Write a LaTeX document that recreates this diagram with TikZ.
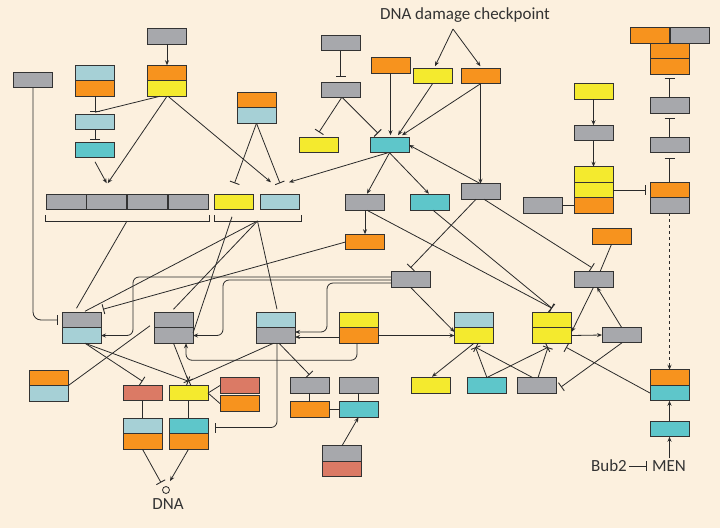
\documentclass[tikz,border=0pt]{standalone}
\usepackage{fontspec}
\setmainfont{Carlito}
\usetikzlibrary{arrows.meta,calc}
\definecolor{bgc}{HTML}{FCF0DE}
\definecolor{cg}{HTML}{A7A8AC}
\definecolor{co}{HTML}{F7931E}
\definecolor{cy}{HTML}{F4EA2E}
\definecolor{cl}{HTML}{A6D0D6}
\definecolor{ct}{HTML}{5EC6CA}
\definecolor{cs}{HTML}{DB7A65}
\definecolor{bdr}{HTML}{333333}
\definecolor{lc}{HTML}{2A2A2A}
\definecolor{txc}{HTML}{333333}
\begin{document}
\begin{tikzpicture}[x=1pt,y=-1pt,
  bx/.style={draw=bdr, line width=0.95pt, minimum width=39pt, minimum height=15.5pt, inner sep=0pt, outer sep=0pt},
  gbox/.style={bx, fill=cg}, obox/.style={bx, fill=co}, ybox/.style={bx, fill=cy},
  lbox/.style={bx, fill=cl}, tbox/.style={bx, fill=ct}, sbox/.style={bx, fill=cs},
  ln/.style={draw=lc, line width=0.8pt},
  act/.style={ln, -{Stealth[length=5pt,width=4pt]}},
  inh/.style={ln, -{Bar[width=10pt,line width=0.9pt]}},
  lbl/.style={text=txc, font=\fontsize{17}{20}\selectfont, inner sep=2pt}]
\fill[bgc] (0,0) rectangle (720,528);
\useasboundingbox (0,0) rectangle (720,528);

% ---- nodes ----
\node[gbox] (b1) at (167,36.5) {};
\node[obox] (b2o) at (167,73) {};
\node[ybox] (b2y) at (167,88.5) {};
\node[lbox] (b3l) at (95,73) {};
\node[obox] (b3o) at (95,88.5) {};
\node[lbox] (b4) at (95,122) {};
\node[tbox] (b5) at (95,150) {};
\node[gbox] (b6) at (33,80) {};
\node[obox] (b7o) at (256.5,100) {};
\node[lbox] (b7l) at (256.5,115.5) {};
\node[gbox] (b8) at (340.5,43) {};
\node[gbox] (b9) at (340.5,90) {};
\node[ybox] (b10) at (319,145) {};
\node[gbox,minimum width=40pt] (r1) at (66,202) {};
\node[gbox,minimum width=40pt] (r2) at (106.7,202) {};
\node[gbox,minimum width=40pt] (r3) at (147.3,202) {};
\node[gbox,minimum width=40pt] (r4) at (188,202) {};
\node[ybox] (yR) at (233.5,202) {};
\node[lbox] (lR) at (280,202) {};
\node[tbox] (b11) at (389.5,145) {};
\node[obox] (b12) at (390.5,65.5) {};
\node[ybox] (b13) at (432.5,76) {};
\node[obox] (b14) at (480.5,76) {};
\node[gbox] (b15) at (480.5,191.5) {};
\node[gbox] (b16) at (365,202.5) {};
\node[tbox] (b17) at (430,202.5) {};
\node[obox] (b18) at (365,242) {};
% top right
\node[obox] (tA) at (650,35.5) {};
\node[gbox] (tB) at (689.5,35.5) {};
\node[obox] (tC) at (669.5,51) {};
\node[obox] (tD) at (669.5,66.5) {};
\node[gbox] (b19) at (669.5,105.5) {};
\node[gbox] (b20) at (669.5,145) {};
\node[obox] (b21o) at (669.5,190) {};
\node[gbox] (b21g) at (669.5,205.5) {};
\node[ybox] (b22) at (593.5,91.5) {};
\node[gbox] (b23) at (593.5,133) {};
\node[ybox] (b24a) at (593.5,174.5) {};
\node[ybox] (b24b) at (593.5,190) {};
\node[obox] (b24c) at (593.5,205.5) {};
\node[gbox] (b25) at (542.5,205.5) {};
\node[obox] (b28) at (611.5,236.5) {};
\node[gbox] (b29) at (593.5,279.5) {};
\node[ybox] (b30a) at (552,320) {};
\node[ybox] (b30b) at (552,335.5) {};
\node[gbox] (b31) at (621.5,335) {};
\node[lbox] (b32a) at (474,320) {};
\node[ybox] (b32b) at (474,335.5) {};
\node[gbox] (b33) at (410.5,279.5) {};
\node[ybox] (b50) at (430.5,385.5) {};
\node[tbox] (b51) at (486.5,385.5) {};
\node[gbox] (b52) at (536.5,385.5) {};
\node[obox] (b26a) at (669.5,377.5) {};
\node[tbox] (b26b) at (669.5,393) {};
\node[tbox] (b27) at (669.5,429) {};
% left bottom
\node[gbox] (b35a) at (81.5,320) {};
\node[lbox] (b35b) at (81.5,335.5) {};
\node[gbox] (b36a) at (173.5,320) {};
\node[gbox] (b36b) at (173.5,335.5) {};
\node[lbox] (b34a) at (275.5,320) {};
\node[gbox] (b34b) at (275.5,335.5) {};
\node[ybox] (b37a) at (358.5,320) {};
\node[obox] (b37b) at (358.5,335.5) {};
\node[obox] (b38a) at (48.5,378) {};
\node[lbox] (b38b) at (48.5,393.5) {};
\node[sbox] (b39) at (142.5,393) {};
\node[ybox] (b40) at (188.5,393) {};
\node[sbox] (b41) at (239.5,385.5) {};
\node[obox] (b42) at (239.5,403.5) {};
\node[lbox] (b43a) at (142.5,426) {};
\node[obox] (b43b) at (142.5,441.5) {};
\node[tbox] (b44a) at (188.5,426) {};
\node[obox] (b44b) at (188.5,441.5) {};
\node[gbox] (b45) at (309.5,385.5) {};
\node[obox] (b46) at (309.5,409.5) {};
\node[gbox] (b47) at (358.5,385.5) {};
\node[tbox] (b48) at (358.5,409.5) {};
\node[gbox] (b49a) at (341.5,453.5) {};
\node[sbox] (b49b) at (341.5,469) {};
\node[circle, draw=lc, line width=0.8pt, minimum size=7pt, inner sep=0pt] (dna) at (166,490) {};
\node[lbl] (dnat) at (168,504) {DNA};
\node[lbl] (title) at (465,15) {DNA damage checkpoint};
\coordinate (tt) at (453,29);
\node[lbl] (bub) at (609,466) {Bub2};
\node[lbl] (men) at (669,466) {MEN};

% brackets
\draw[ln] (45,215) -- (45,221) -- (209,221) -- (209,215);
\draw[ln] (214,215) -- (214,221) -- (301,221) -- (301,215);
\coordinate (br1) at (127,221);
\coordinate (br2) at (257.5,221);

% ---- connectors ----
\draw[act] (b1.south) -- (b2o.north);
\draw[inh] (b3o.south) -- ([yshift=2pt]b4.north);
\draw[ln] ([xshift=-7pt]b2y.south) -- ([yshift=2pt]b4.north);
\draw[inh] (b4.south) -- ([yshift=2pt]b5.north);
\draw[act] ([yshift=-4pt]b5.south) -- ([yshift=11pt]r2.north);
\draw[act] (b2y.south) -- ([xshift=1pt,yshift=11pt]r2.north);
\draw[act] ([xshift=1pt]b2y.south) -- ([xshift=-9pt,yshift=12pt]lR.north);
\draw[inh] (b7l.south) -- ([xshift=1pt,yshift=11pt]yR.north);
\draw[inh] (b7l.south) -- ([yshift=11pt]lR.north);
\draw[act] ([xshift=-1.5pt]b11.south) -- ([xshift=9pt,yshift=12pt]lR.north);
\draw[inh] (b8.south) -- ([yshift=5pt]b9.north);
\draw[inh] ([xshift=1pt]b9.south) -- ([yshift=5pt]b10.north);
\draw[inh] ([xshift=2pt]b9.south) -- ([xshift=-11.5pt,yshift=4pt]b11.north);
\draw[act] (b12.south) -- ([xshift=1pt,yshift=2pt]b11.north);
\draw[act] (b13.south) -- ([xshift=8.5pt,yshift=2pt]b11.north);
\draw[act] (b14.south) -- ([xshift=12.5pt,yshift=2pt]b11.north);
\draw[act] (b14.south) -- (b15.north);
\draw[act] (b15.north) -- (b11.east);
\draw[act] (b11.south) -- ([xshift=2pt,yshift=1pt]b16.north);
\draw[act] (b11.south) -- ([xshift=-1pt,yshift=1pt]b17.north);
\draw[act] (b16.south) -- (b18.north);
\draw[inh] ([xshift=2pt]b16.south) -- ([yshift=4pt]b30a.north);
\draw[inh] ([xshift=3pt]b17.south) -- ([yshift=4pt]b30a.north);
\draw[inh] (b18.west) -- ([xshift=2pt,yshift=3pt]b35a.north east);
\draw[inh] ([xshift=-4.5pt]b15.south) -- ([yshift=4pt]b33.north);
\draw[inh] ([xshift=3.5pt]b15.south) -- ([xshift=-1.5pt,yshift=4pt]b29.north);
\draw[ln] (b28.south) -- ([xshift=6.5pt]b29.north);
\draw[act] (b29.south) -- ([yshift=3.5pt]b30b.east);
\draw[act] (b31.north) -- ([xshift=3.5pt]b29.south);
\draw[act] (b30b.east) -- (b31.west);
\draw[act] (b33.south) -- ([yshift=3.5pt]b32b.west);
\draw[act, rounded corners=6pt] ([yshift=2.5pt]b33.west) -| ([xshift=32pt]b35b.east) -- (b35b.east);
\draw[act, rounded corners=6pt] ([yshift=-0.5pt]b33.west) -| ([xshift=30pt]b36b.east) -- (b36b.east);
\draw[act, rounded corners=6pt] ([yshift=-3.5pt]b33.west) -| ([xshift=32pt,yshift=3.5pt]b34b.east) -- ([yshift=3.5pt]b34b.east);
\draw[act] ([yshift=-1.5pt]b37b.west) -- ([yshift=-1.5pt]b34b.east);
\draw[act, rounded corners=6pt] ([xshift=-1.5pt]b37b.south) -- ++(0,17) -| ([xshift=12.5pt]b36b.south);
\draw[act] (b37b.east) -- (b32b.west);
\draw[inh, rounded corners=8pt] (b6.south) |- ([xshift=-4pt]b35a.west);
\draw[ln] (br1) -- ([xshift=-5pt,yshift=4pt]b35a.north);
\draw[ln] (br2) -- ([xshift=3.5pt,yshift=1pt]b35a.north);
\draw[ln] (br2) -- ([yshift=3pt]b36a.north);
\draw[ln] (br2) -- ([xshift=1.5pt,yshift=3pt]b34a.north);
\draw[ln] ([xshift=-1.5pt,yshift=-7pt]yR.south) -- ([yshift=2.5pt]b36b.east);
\draw[ln] (b38a.south east) -- ([xshift=-4pt,yshift=2pt]b36b.north west);
\draw[inh] ([xshift=3.5pt]b35b.south) -- ([yshift=4pt]b39.north);
\draw[inh] ([xshift=3.5pt]b35b.south) -- ([yshift=4pt]b40.north);
\draw[inh] (b36b.south) -- ([yshift=4pt]b40.north);
\draw[inh] ([xshift=-2pt]b34b.south) -- ([yshift=4pt]b40.north);
\draw[inh] ([xshift=3.5pt]b34b.south) -- ([yshift=3pt]b45.north);
\draw[inh, rounded corners=6pt] ([xshift=1.5pt]b34b.south) |- ([xshift=7pt,yshift=-1.5pt]b44a.east);
\draw[ln] (b39.south) -- (b43a.north);
\draw[ln] (b40.south) -- (b44a.north);
\draw[ln] (b40.east) -- (b41.west);
\draw[ln] (b40.east) -- (b42.west);
\draw[inh] (b43b.south) -- ([xshift=-5pt,yshift=3.5pt]dna.north);
\draw[act] (b44b.south) -- ([xshift=4pt,yshift=5pt]dna.north);
\draw[ln] (b45.south) -- (b46.north);
\draw[ln] (b46.east) -- (b48.west);
\draw[ln] (b47.south) -- (b48.north);
\draw[act] ([xshift=0.5pt]b49a.north) -- (b48.south);
\draw[act] (b32b.south) -- ([xshift=1.5pt,yshift=1pt]b50.north);
\draw[inh] ([xshift=0.5pt]b51.north) -- ([xshift=1.5pt,yshift=-4pt]b32b.south);
\draw[inh] ([xshift=-3.5pt]b52.north) -- ([xshift=1.5pt,yshift=-4pt]b32b.south);
\draw[inh] (b51.north) -- ([xshift=-4pt,yshift=-4pt]b30b.south);
\draw[inh] ([xshift=1.5pt]b52.north) -- ([xshift=-4pt,yshift=-4pt]b30b.south);
\draw[inh] (b26b.west) -- ([xshift=14pt,yshift=-4pt]b30b.south);
\draw[inh] ([xshift=0.5pt]b31.south) -- ([xshift=5pt,yshift=-1.5pt]b52.east);
\draw[act] (b22.south) -- (b23.north);
\draw[act] (b23.south) -- (b24a.north);
\draw[ln] (b25.east) -- (b24c.west);
\draw[inh] (b24b.east) -- ([xshift=-4pt]b21o.west);
\draw[inh] (b19.north) -- ([yshift=-4pt]tD.south);
\draw[inh] (b20.north) -- ([yshift=-5pt]b19.south);
\draw[inh] (b21o.north) -- ([yshift=-5pt]b20.south);
\draw[act, dash pattern=on 3pt off 3pt] (b21g.south) -- (b26a.north);
\draw[act] (b27.north) -- (b26b.south);
\draw[act] (b27.south |- men.north) -- (b27.south);
\draw[inh, shorten >=3pt] (bub.east) -- (men.west);
\draw[act] (tt) -- ([xshift=2.5pt,yshift=2pt]b13.north);
\draw[act] (tt) -- ([yshift=2pt]b14.north);
\end{tikzpicture}
\end{document}
